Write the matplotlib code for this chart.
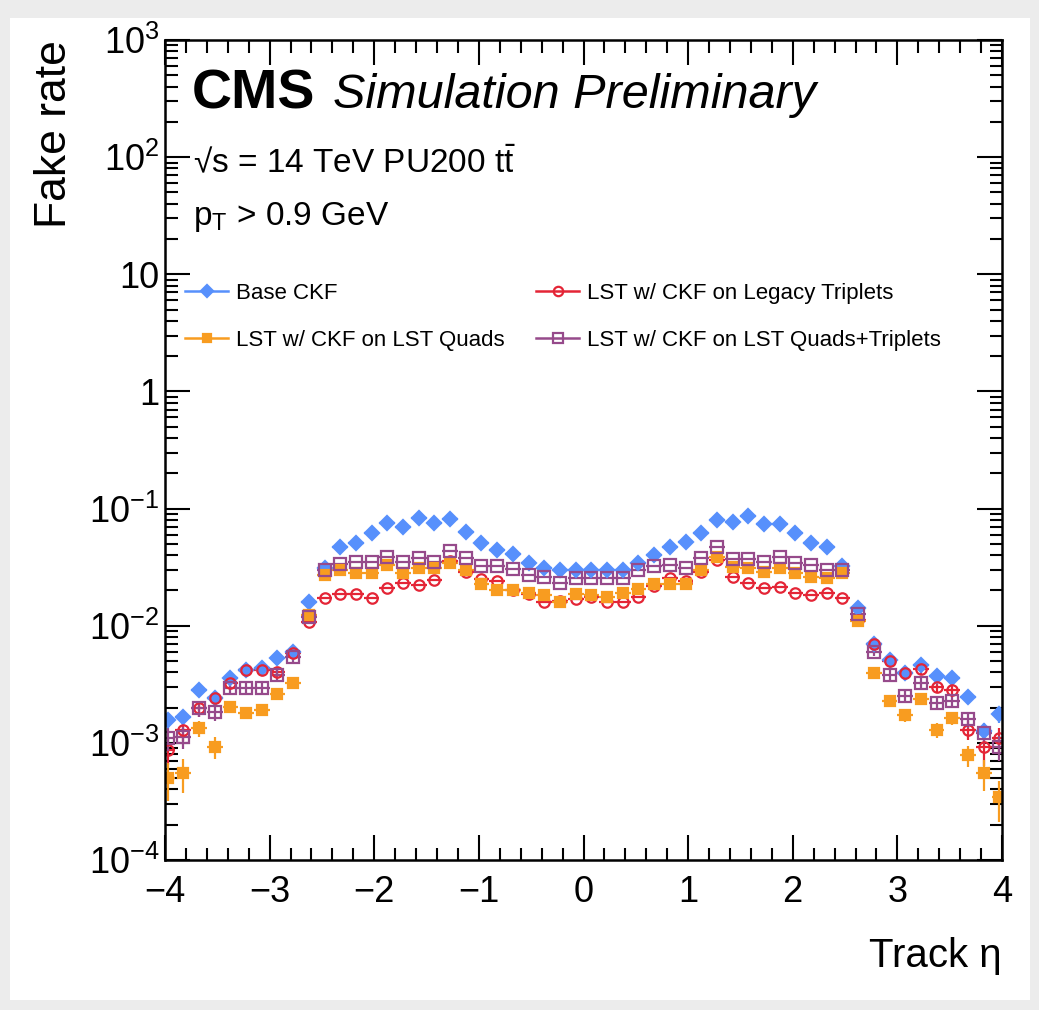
import numpy as np
import matplotlib
matplotlib.use("Agg")
import matplotlib.pyplot as plt
from matplotlib.patches import Rectangle
from matplotlib.lines import Line2D
from matplotlib.ticker import FixedLocator, FixedFormatter, MultipleLocator, LogLocator, NullFormatter

plt.rcParams["font.family"] = ["Liberation Sans", "DejaVu Sans"]
plt.rcParams["mathtext.fontset"] = "custom"
plt.rcParams["mathtext.rm"] = "Liberation Sans"
plt.rcParams["mathtext.it"] = "Liberation Sans:italic"
plt.rcParams["mathtext.bf"] = "Liberation Sans:bold"

# --- data: 54 bins of 0.15 in track eta, centres -3.975 ... 3.975 ---
eta = np.round(np.arange(-3.975, 4.0, 0.15), 3)

base_ckf = [1.57e-3, 1.67e-3, 2.83e-3, 2.42e-3, 3.56e-3, 4.19e-3, 4.33e-3, 5.26e-3, 6.0e-3,
            1.60e-2, 3.11e-2, 4.67e-2, 5.05e-2, 6.15e-2, 7.57e-2, 7.0e-2, 8.26e-2, 7.57e-2,
            8.1e-2, 6.35e-2, 5.12e-2, 4.43e-2, 4.09e-2, 3.45e-2, 3.09e-2, 3.0e-2, 3.0e-2,
            3.0e-2, 3.0e-2, 3.0e-2, 3.45e-2, 4.01e-2, 4.67e-2, 5.21e-2, 6.22e-2, 7.98e-2,
            7.72e-2, 8.63e-2, 7.38e-2, 7.38e-2, 6.22e-2, 5.12e-2, 4.72e-2, 3.24e-2, 1.41e-2,
            6.98e-3, 5.09e-3, 3.97e-3, 4.62e-3, 3.72e-3, 3.56e-3, 2.45e-3, 1.27e-3, 1.76e-3]

lst_legacy = [8.7e-4, 1.29e-3, 1.97e-3, 2.40e-3, 3.22e-3, 4.19e-3, 4.19e-3, 4.05e-3, 5.8e-3,
              1.08e-2, 1.71e-2, 1.87e-2, 1.87e-2, 1.71e-2, 2.08e-2, 2.30e-2, 2.24e-2, 2.45e-2,
              3.6e-2, 2.9e-2, 2.49e-2, 2.42e-2, 2.0e-2, 1.85e-2, 1.60e-2, 1.62e-2, 1.7e-2,
              1.75e-2, 1.60e-2, 1.60e-2, 1.77e-2, 2.2e-2, 2.54e-2, 2.4e-2, 2.9e-2, 3.64e-2,
              2.59e-2, 2.30e-2, 2.08e-2, 2.15e-2, 1.9e-2, 1.83e-2, 1.89e-2, 1.71e-2, 1.12e-2,
              6.98e-3, 5.0e-3, 3.97e-3, 4.3e-3, 3.02e-3, 2.83e-3, 1.29e-3, 9.3e-4, 1.09e-3]

lst_quads = [4.98e-4, 5.5e-4, 1.33e-3, 9.3e-4, 2.04e-3, 1.79e-3, 1.91e-3, 2.61e-3, 3.22e-3,
             1.23e-2, 2.71e-2, 2.99e-2, 2.80e-2, 2.80e-2, 3.30e-2, 2.80e-2, 3.09e-2, 3.09e-2,
             3.41e-2, 3.0e-2, 2.27e-2, 2.02e-2, 2.02e-2, 1.89e-2, 1.83e-2, 1.60e-2, 1.87e-2,
             1.83e-2, 1.75e-2, 1.89e-2, 2.04e-2, 2.27e-2, 2.27e-2, 2.27e-2, 3.0e-2, 3.88e-2,
             3.15e-2, 3.09e-2, 2.89e-2, 3.09e-2, 2.80e-2, 2.63e-2, 2.54e-2, 2.80e-2, 1.10e-2,
             3.97e-3, 2.29e-3, 1.73e-3, 2.35e-3, 1.29e-3, 1.62e-3, 7.87e-4, 5.5e-4, 3.43e-4]

lst_quads_trip = [1.09e-3, 1.13e-3, 1.97e-3, 1.84e-3, 2.92e-3, 2.92e-3, 2.92e-3, 3.79e-3, 5.44e-3,
                  1.19e-2, 3.0e-2, 3.36e-2, 3.52e-2, 3.52e-2, 3.88e-2, 3.52e-2, 3.76e-2, 3.52e-2,
                  4.37e-2, 3.76e-2, 3.24e-2, 3.24e-2, 3.03e-2, 2.71e-2, 2.59e-2, 2.30e-2, 2.54e-2,
                  2.54e-2, 2.54e-2, 2.54e-2, 3.0e-2, 3.24e-2, 3.3e-2, 3.1e-2, 3.76e-2, 4.72e-2,
                  3.7e-2, 3.7e-2, 3.52e-2, 3.88e-2, 3.45e-2, 3.3e-2, 3.0e-2, 3.0e-2, 1.26e-2,
                  6.0e-3, 3.79e-3, 2.51e-3, 3.27e-3, 2.2e-3, 2.29e-3, 1.59e-3, 1.22e-3, 9.2e-4]

# vertical errors, only visible in the 9 outermost bins on each side
err_base = [2.4e-4, 2.4e-4, 3e-4, 3e-4, 3.5e-4, 4e-4, 4e-4, 4.5e-4, 5e-4,
            5.5e-4, 4.5e-4, 4e-4, 4e-4, 3.6e-4, 3.5e-4, 3e-4, 2.2e-4, 2.7e-4]
err_legacy = [2.2e-4, 2.6e-4, 3e-4, 3.2e-4, 3.6e-4, 4e-4, 4e-4, 4e-4, 5e-4,
              5.5e-4, 4.5e-4, 4e-4, 4e-4, 3.4e-4, 3.3e-4, 2.4e-4, 3e-4, 2.5e-4]
err_quads = [1.8e-4, 1.8e-4, 2e-4, 2e-4, 2.2e-4, 2e-4, 2e-4, 2.5e-4, 2.8e-4,
             3.5e-4, 2.5e-4, 2.2e-4, 2.5e-4, 1.8e-4, 2e-4, 1.6e-4, 1.6e-4, 1.3e-4]
err_quads_trip = [2.4e-4, 2.4e-4, 3e-4, 3e-4, 3.4e-4, 3.4e-4, 3.4e-4, 4e-4, 5e-4,
                  5e-4, 4e-4, 3.4e-4, 3.8e-4, 3e-4, 3e-4, 2.6e-4, 2.4e-4, 2.2e-4]

labels = ["Base CKF", "LST w/ CKF on Legacy Triplets", "LST w/ CKF on LST Quads",
          "LST w/ CKF on LST Quads+Triplets"]
colors = ["#5790fc", "#e42536", "#f89c20", "#964a8b"]

ytick_vals = [1e-4, 1e-3, 1e-2, 1e-1, 1, 10, 1e2, 1e3]
ytick_labels = [r"$10^{-4}$", r"$10^{-3}$", r"$10^{-2}$", r"$10^{-1}$", "1", "10",
                r"$10^{2}$", r"$10^{3}$"]


def full_err(edge):
    return np.concatenate([edge[:9], np.zeros(len(eta) - 18), edge[9:]])


W, H = 1039, 1010
fig = plt.figure(figsize=(W / 100, H / 100), dpi=100)
fig.patch.set_facecolor("#ececec")
fig.add_artist(Rectangle((10 / W, 10 / H), 1020 / W, 982 / H, transform=fig.transFigure,
                         facecolor="white", edgecolor="none", zorder=0))

ax = fig.add_axes([165 / W, 1 - 860 / H, 837 / W, 820 / H])

series = [
    (base_ckf, err_base, "D", colors[0], True, 7),
    (lst_legacy, err_legacy, "o", colors[1], False, 7.5),
    (lst_quads, err_quads, "s", colors[2], True, 7),
    (lst_quads_trip, err_quads_trip, "s", colors[3], False, 8.5),
]
handles = []
for (vals, err, mk, col, filled, ms), lab in zip(series, labels):
    ax.errorbar(eta, vals, xerr=0.075, yerr=full_err(err), fmt=mk, color=col,
                ms=ms, mfc=col if filled else "none", mec=col, mew=1.6,
                elinewidth=1.6, capsize=0)
    handles.append(Line2D([], [], color=col, lw=1.8, marker=mk, ms=ms * 0.9,
                          mfc=col if filled else "none", mec=col, mew=1.6))

ax.set_yscale("log")
ax.set_ylim(1e-4, 1e3)
ax.set_xlim(-4, 4)

ax.yaxis.set_major_locator(FixedLocator(ytick_vals))
ax.yaxis.set_major_formatter(FixedFormatter(ytick_labels))
ax.yaxis.set_minor_locator(LogLocator(base=10, subs=np.arange(2, 10)))
ax.yaxis.set_minor_formatter(NullFormatter())
ax.xaxis.set_major_locator(MultipleLocator(1))
ax.xaxis.set_minor_locator(MultipleLocator(0.2))

ax.tick_params(which="both", direction="in", top=True, right=True, width=1.5)
ax.tick_params(which="major", length=18, labelsize=26)
ax.tick_params(axis="x", which="major", pad=11)
ax.tick_params(axis="y", which="major", pad=4)
ax.tick_params(which="minor", length=9)
for s in ax.spines.values():
    s.set_linewidth(1.8)

ax.set_xlabel("Track η", fontsize=29, loc="right", labelpad=19)
ax.set_ylabel("Fake rate", fontsize=32, loc="top", labelpad=10)

ax.text(0.032, 0.917, "CMS", transform=ax.transAxes, fontsize=40, fontweight="bold",
        va="baseline")
ax.text(0.2007, 0.917, "Simulation Preliminary", transform=ax.transAxes, fontsize=35,
        style="italic", va="baseline")
ax.text(0.033, 0.839, "√s = 14 TeV PU200 $\\mathrm{t\\bar{t}}$", transform=ax.transAxes,
        fontsize=24, va="baseline")
ax.text(0.033, 0.774, r"$\mathrm{p_{T}}$ > 0.9 GeV", transform=ax.transAxes,
        fontsize=24, va="baseline")

order = [0, 2, 1, 3]
ax.legend([handles[i] for i in order], [labels[i] for i in order], ncol=2,
          loc="upper left", bbox_to_anchor=(0.0, 0.728), frameon=False, fontsize=16,
          handlelength=1.95, handletextpad=0.36, columnspacing=1.4, labelspacing=1.15)

fig.savefig("out.png", dpi=100)
